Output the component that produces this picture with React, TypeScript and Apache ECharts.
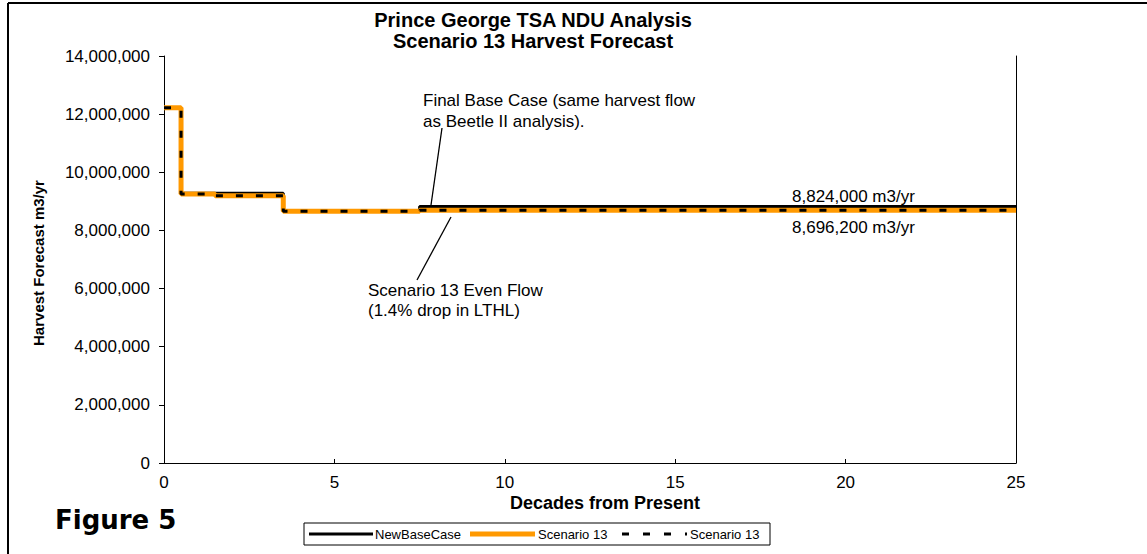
import React, { useEffect, useRef } from "react";
import * as echarts from "echarts";

const decades = [0,1,2,3,4,5,6,7,8,9,10,11,12,13,14,15,16,17,18,19,20,21,22,23,24,25];
const newBaseCase = [12220000,9280000,9280000,9280000,8660000,8660000,8660000,8660000,8824000,8824000,8824000,8824000,8824000,8824000,8824000,8824000,8824000,8824000,8824000,8824000,8824000,8824000,8824000,8824000,8824000,8824000];
const scenario13 = [12220000,9250000,9190000,9190000,8660000,8660000,8660000,8660000,8696200,8696200,8696200,8696200,8696200,8696200,8696200,8696200,8696200,8696200,8696200,8696200,8696200,8696200,8696200,8696200,8696200,8696200];
const titleLines = ["Prince George TSA NDU Analysis", "Scenario 13 Harvest Forecast"];
const legendNames = ["NewBaseCase", "Scenario 13", "Scenario 13"];
const baseLabel = "8,824,000 m3/yr";
const scenarioLabel = "8,696,200 m3/yr";

const FONT = '"Liberation Sans", Arial, sans-serif';
const ORANGE = "#FF9900";

export default function App() {
  const ref = useRef<HTMLDivElement>(null);
  useEffect(() => {
    const chart = echarts.init(ref.current!, null, { renderer: "svg" });
    const pair = (ys: number[]) => decades.map((d, i) => [d, ys[i]]);
    chart.setOption({
      animation: false,
      backgroundColor: "#fff",
      grid: { left: 164, right: 131, top: 56, bottom: 91 },
      xAxis: {
        type: "value", min: 0, max: 25, interval: 5,
        axisLine: { show: true, lineStyle: { color: "#000", width: 1 } },
        axisTick: { show: true, inside: true, length: 4, lineStyle: { color: "#000" } },
        axisLabel: { color: "#000", fontSize: 17, fontFamily: FONT, margin: 11 },
        splitLine: { show: false },
      },
      yAxis: [
        {
          type: "value", min: 0, max: 14000000, interval: 2000000,
          axisLine: { show: true, lineStyle: { color: "#000", width: 1 } },
          axisTick: { show: true, length: 5, lineStyle: { color: "#000" } },
          axisLabel: { color: "#000", fontSize: 17, fontFamily: FONT, margin: 14,
            formatter: (v: number) => v.toLocaleString("en-US") },
          splitLine: { show: false },
        },
        {
          type: "value", min: 0, max: 14000000, interval: 2000000, position: "right",
          axisLine: { show: true, lineStyle: { color: "#000", width: 1 } },
          axisTick: { show: false }, axisLabel: { show: false }, splitLine: { show: false },
        },
      ],
      series: [
        { name: legendNames[0], type: "line", step: "middle", data: pair(newBaseCase), showSymbol: false, symbol: "none",
          lineStyle: { color: "#000", width: 3 }, z: 2 },
        { name: legendNames[1], type: "line", step: "middle", data: pair(scenario13), showSymbol: false, symbol: "none",
          lineStyle: { color: ORANGE, width: 5 }, z: 3 },
        { name: legendNames[2], type: "line", step: "middle", data: pair(scenario13), showSymbol: false, symbol: "none",
          lineStyle: { color: "#000", width: 3, type: [7, 13] }, z: 4 },
      ],
      graphic: [
        { type: "line", shape: { x1: 8, y1: 3, x2: 1147, y2: 3 }, style: { stroke: "#000", lineWidth: 2 } },
        { type: "line", shape: { x1: 8, y1: 3, x2: 8, y2: 554 }, style: { stroke: "#000", lineWidth: 2 } },
        { type: "text", x: 533, y: 20, style: { text: titleLines[0], font: `bold 20px ${FONT}`, fill: "#000", align: "center", verticalAlign: "middle" } },
        { type: "text", x: 533, y: 41, style: { text: titleLines[1], font: `bold 20px ${FONT}`, fill: "#000", align: "center", verticalAlign: "middle" } },
        { type: "text", x: 38, y: 263, rotation: Math.PI / 2, style: { text: "Harvest Forecast m3/yr", font: `bold 15px ${FONT}`, fill: "#000", align: "center", verticalAlign: "middle" } },
        { type: "text", x: 605, y: 503, style: { text: "Decades from Present", font: `bold 18px ${FONT}`, fill: "#000", align: "center", verticalAlign: "middle" } },
        { type: "text", x: 55, y: 520, style: { text: "Figure 5", font: `bold 26px "Comic Sans MS", "DejaVu Sans", sans-serif`, fill: "#000", align: "left", verticalAlign: "middle" } },
        { type: "text", x: 423, y: 100, style: { text: "Final Base Case (same harvest flow", font: `17px ${FONT}`, fill: "#000", verticalAlign: "middle" } },
        { type: "text", x: 423, y: 121, style: { text: "as Beetle II analysis).", font: `17px ${FONT}`, fill: "#000", verticalAlign: "middle" } },
        { type: "line", shape: { x1: 442, y1: 128, x2: 431, y2: 205 }, style: { stroke: "#000", lineWidth: 1.3 } },
        { type: "text", x: 368, y: 290, style: { text: "Scenario 13 Even Flow", font: `17px ${FONT}`, fill: "#000", verticalAlign: "middle" } },
        { type: "text", x: 368, y: 310, style: { text: "(1.4% drop in LTHL)", font: `17px ${FONT}`, fill: "#000", verticalAlign: "middle" } },
        { type: "line", shape: { x1: 451, y1: 217, x2: 417, y2: 280 }, style: { stroke: "#000", lineWidth: 1.3 } },
        { type: "text", x: 792, y: 196, style: { text: baseLabel, font: `17px ${FONT}`, fill: "#000", verticalAlign: "middle" } },
        { type: "text", x: 792, y: 227, style: { text: scenarioLabel, font: `17px ${FONT}`, fill: "#000", verticalAlign: "middle" } },
        { type: "rect", shape: { x: 304, y: 523, width: 466, height: 22 }, style: { fill: "#fff", stroke: "#000", lineWidth: 1 } },
        { type: "line", shape: { x1: 309, y1: 534, x2: 373, y2: 534 }, style: { stroke: "#000", lineWidth: 3 } },
        { type: "text", x: 375, y: 534, style: { text: legendNames[0], font: `13px ${FONT}`, fill: "#000", verticalAlign: "middle" } },
        { type: "line", shape: { x1: 470, y1: 534, x2: 535, y2: 534 }, style: { stroke: ORANGE, lineWidth: 5 } },
        { type: "text", x: 538, y: 534, style: { text: legendNames[1], font: `13px ${FONT}`, fill: "#000", verticalAlign: "middle" } },
        { type: "line", shape: { x1: 622, y1: 534, x2: 687, y2: 534 }, style: { stroke: "#000", lineWidth: 3, lineDash: [7, 14] } },
        { type: "text", x: 690, y: 534, style: { text: legendNames[2], font: `13px ${FONT}`, fill: "#000", verticalAlign: "middle" } },
      ],
    });
    return () => chart.dispose();
  }, []);
  return <div ref={ref} style={{ position: "absolute", left: 0, top: 0, width: 1147, height: 554 }} />;
}
